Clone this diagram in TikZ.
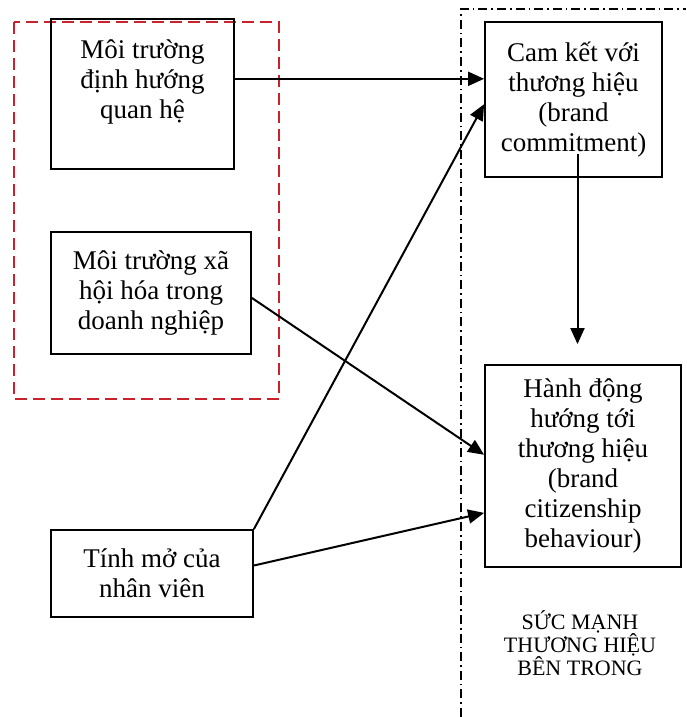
\documentclass[tikz,border=0pt]{standalone}
\usepackage{fontspec}
\setmainfont{Liberation Serif}
\usetikzlibrary{arrows.meta,calc}
\definecolor{duongdo}{RGB}{200,35,45}
\tikzset{khoi/.style={draw,line width=0.9pt,align=center,inner sep=0pt,font=\fontsize{13.5}{15}\selectfont},
	muiten/.style={-{Triangle[length=8pt,width=7pt]},line width=1pt}}

\begin{document}
\begin{tikzpicture}[x=0.5pt,y=-0.5pt]
			\useasboundingbox (0,0) rectangle (686,717);
			% nhom moi truong
			\draw [duongdo,dash pattern=on 6pt off 3pt,line width=0.7pt] (14,22) rectangle (279,399);
			% vung suc manh thuong hieu
			\draw [dash pattern=on 4.5pt off 2pt on 0.8pt off 2pt,line width=0.6pt] (461,717) -- (461,9) -- (686,9);
			\node[khoi,minimum width=91.5pt,minimum height=75pt] (quanhe) at (142.5,94) {Môi trường\\định hướng\\quan hệ\\\mbox{}};
			\node[khoi,minimum width=100pt,minimum height=61pt] (xahoihoa) at (151,293) {Môi trường xã\\hội hóa trong\\doanh nghiệp};
			\node[khoi,minimum width=101pt,minimum height=43.5pt] (tinhmo) at (152,573.5) {Tính mở của\\nhân viên};
			\node[khoi,minimum width=88.5pt,minimum height=77.5pt] (camket) at (573.5,99.5) {Cam kết với\\thương hiệu\\(brand\\commitment)};
			\node[khoi,minimum width=98pt,minimum height=101pt] (hanhdong) at (583,466) {Hành động\\hướng tới\\thương hiệu\\(brand\\citizenship\\behaviour)};
			\node[align=center,font=\fontsize{11}{11.5}\selectfont] (sucmanh) at (580,643) {SỨC MẠNH\\THƯƠNG HIỆU\\BÊN TRONG};
				\draw [muiten] ($(quanhe.north east)!0.4!(quanhe.south east)$) coordinate (a1) -- (a1 -| camket.west);
				\draw [muiten] ($(xahoihoa.north east)!0.54!(xahoihoa.south east)$) -- ($(hanhdong.north west)!0.445!(hanhdong.south west)$);
				\draw [muiten] (tinhmo.north east) -- ($(camket.north west)!0.53!(camket.south west)$);
				\draw [muiten] ($(tinhmo.north east)!0.41!(tinhmo.south east)$) -- ($(hanhdong.north west)!0.73!(hanhdong.south west)$);
				\draw [muiten] ([xshift=2pt,yshift=12pt]camket.south) coordinate (d1) -- ($(d1 |- hanhdong.north)+(0,-20)$);
		\end{tikzpicture}
\end{document}
